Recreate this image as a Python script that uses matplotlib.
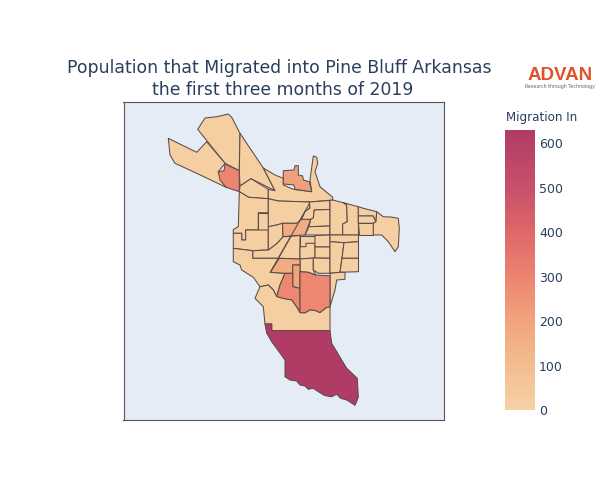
import matplotlib
matplotlib.use("Agg")
import matplotlib.pyplot as plt
from matplotlib.colors import LinearSegmentedColormap, Normalize
from matplotlib.cm import ScalarMappable
from matplotlib.patches import Polygon

plt.rcParams['font.family'] = ['DejaVu Sans']

TITLE_LINES = ["Population that Migrated into Pine Bluff Arkansas", "the first three months of 2019"]
CBAR_TITLE = "Migration In"
CBAR_TICKS = [0, 100, 200, 300, 400, 500, 600]
VMAX = 630

# Tract outlines in map units, with migration value per tract
north_wedge = [(197.7,129.3),(205,118),(216.7,116.7),(222,115.5),(228.3,114),(231.7,117.3),(240,133.3),(239.3,170.7),(225,163.3)]
north_east = [(240,133.3),(263.3,168),(275,190.7),(251,178.7),(240,186),(239.3,170.7)]
far_west = [(168.3,138.3),(196.7,152.3),(206.7,141.7),(225,163.3),(218.3,171.7),(221.7,180),(226,187.3),(196.7,173.3),(175,163.3),(170,155)]
red_nw = [(225,164),(239.3,170.7),(239.3,191.7),(226,187.3),(220,180),(218.3,171.7),(224,170.7)]
central_north = [(251,178.7),(268.3,189.3),(268.3,198.7),(248.7,197.3),(239.3,191.7),(240,186)]
north_river = [(263.3,168),(275,175),(283.3,178.3),(283.3,185),(293.3,189.3),(311.7,191.7),(310,180),(313.3,156),(316.7,157.3),(317.7,163.3),(315,171.7),(320,186.7),(332.7,197.3),(332.7,200),(310,202),(278.3,201),(268.3,198.7),(268.3,189.3),(275,190.7)]
orange_north = [(283.3,170.7),(294,170),(295,165.7),(298.3,165.7),(298.3,175),(302.7,176),(303.3,180),(309.3,181.7),(311.7,191.7),(295,189.3),(294,185),(283.3,184)]
west_top = [(239.3,191.7),(248.7,197.3),(268.3,198.7),(268.3,212.7),(258.3,212.7),(258.3,230),(245.7,230),(245.7,240),(241.7,240),(241.7,233.3),(233.3,233.3),(233.3,229.5),(238.3,226.7)]
box_west = [(258.3,212.7),(268.3,212.7),(268.3,230),(258.3,230)]
west_mid = [(233.3,233.3),(241.7,233.3),(241.7,240),(245.7,240),(245.7,230),(268.3,230),(268.3,250),(252.7,250.7),(233.3,248.3)]
strip = [(252.7,250.7),(268.3,250),(277,243.3),(283,236.7),(291,236.3),(278.4,258.3),(252.7,258.3)]
center_north = [(268.3,198.7),(278.3,201),(309.3,202),(310,208),(305,211.7),(298.3,223.3),(282.7,223.3),(276.7,225),(268.3,226.7)]
center_small = [(268.3,226.7),(276.7,225),(282.7,223.3),(283,236.7),(277,243.3),(268.3,250)]
orange_center = [(282.5,223.3),(296.7,223.3),(301.7,219.3),(310.7,219.3),(305,235),(293.3,235.7),(283,236.7)]
diag_right = [(309.3,202),(330,200.5),(330,209.5),(314.3,210),(313.3,218),(310.7,219.3),(301.7,219.3),(305,211.7),(310,208)]
col_a = [(314.3,210),(330,209.5),(330,226),(309,226.7),(310.7,219.3),(313.3,218)]
col_b = [(309,226.7),(330,226),(330,235),(305,235)]
east_a = [(330,200.5),(332.7,200),(343.3,202.7),(346.7,205),(347.3,221.7),(342.7,224),(342.7,235),(330,235)]
east_b = [(343.3,202.7),(358.3,206.7),(358.5,235),(342.7,235),(342.7,224),(347.3,221.7),(346.7,205)]
small_a = [(358.3,206.7),(363.3,208.3),(376.7,211.7),(376,221.7),(373,216),(358.3,216)]
small_b = [(358.3,216),(373,216),(376,221.7),(373.3,223.3),(358.3,223.3)]
small_c = [(358.3,223.3),(373.3,223.3),(373.3,235),(358.5,235)]
east_end = [(376.7,211.7),(383.3,216.7),(391,217),(398.3,218.3),(399.3,228.3),(398.3,246.7),(395,251.7),(388.3,241.7),(381.7,235),(373.3,235),(373.3,223.3),(376,221.7)]
mid_tri = [(291,236.3),(300,235.5),(300,259),(278.4,258.3)]
box_a = [(300,235.5),(315,235.5),(315,243.3),(306,243.3),(306,246.7),(300,246.7)]
box_b = [(300,246.7),(306,246.7),(306,243.3),(315,243.3),(315,258),(300,259)]
box_c = [(315,235.5),(330,235),(330,247),(315,247)]
box_d = [(315,247),(330,247),(330,258.3),(315,258)]
box_f = [(300,259),(313.3,258),(313.3,270),(316,275),(308.3,272.3),(300,271.7)]
box_g = [(313.3,258),(330,258.3),(330,273.3),(318.3,273.3),(313.3,270)]
right_1 = [(330,235),(358.5,235),(358.5,241.7),(344,242.7),(330,241.7)]
right_2 = [(330,241.7),(344,242.7),(342,258.3),(340,272.3),(330,273.3)]
right_3 = [(344,242.7),(358.5,241.7),(358.5,258.3),(342,258.3)]
right_4 = [(342,258.3),(358.5,258.3),(358.5,271.7),(340,272.3)]
right_5 = [(330,273.3),(340,272.3),(345,272.3),(345,279.3),(336.7,280),(335,290),(330,306.7)]
south_west = [(233.3,248.3),(252.7,250.7),(252.7,258.3),(278.4,258.3),(270.3,272.3),(285,273.3),(280,285),(276.7,296.7),(273.3,290),(268.3,285),(260,286.7),(253.3,277.3),(241.7,270),(240,265),(233.3,261.7)]
orange_south = [(270.3,272.3),(279.3,258.3),(300,259),(300,265),(292.7,265),(292.7,273.3),(285,273.3)]
orange_narrow = [(292.7,265),(300,265),(300,288.3),(292.7,286.7)]
red_left = [(285,273.3),(292.7,273.3),(292.7,286.7),(300,288.3),(300,312.7),(296,306),(291.7,300),(284,298.7),(276.7,296.7),(280,285)]
red_right = [(300,271.7),(308.3,272.3),(315,275),(330,275.7),(330,306.7),(326,308),(320,312.7),(315,310.5),(310,310),(305,313),(300,312.7)]
pale_south = [(260,286.7),(268.3,285),(273.3,290),(276.7,296.7),(284,298.7),(291.7,300),(296,306),(300,312.7),(305,313),(310,310),(315,310.5),(320,312.7),(326,308),(330,306.7),(330,330.7),(271.7,330.7),(271.7,324),(265,324),(263.3,306.7),(255,298.3)]
deep_south = [(265,324),(271.7,324),(271.7,330.7),(330,330.7),(331.7,343.3),(346.7,368.3),(357.3,378.3),(358.3,396.7),(357.3,400),(355,405.3),(346.7,400),(340.7,398.3),(336.7,394.3),(331.7,396.7),(325,395.7),(318.3,391.7),(313.3,388.3),(308.3,389.3),(305,386),(300,385),(296.7,381),(290,380),(285,376.7),(285,360),(271.7,341.7),(266.7,333)]

tracts = [
    (north_wedge, 15), (north_east, 15), (far_west, 15), (red_nw, 300),
    (central_north, 15), (north_river, 15), (orange_north, 210), (west_top, 15),
    (box_west, 15), (west_mid, 15), (strip, 15), (center_north, 15),
    (center_small, 15), (orange_center, 170), (diag_right, 15), (col_a, 15),
    (col_b, 15), (east_a, 15), (east_b, 15), (small_a, 15), (small_b, 15),
    (small_c, 15), (east_end, 15), (mid_tri, 15), (box_a, 15), (box_b, 15),
    (box_c, 15), (box_d, 15), (box_f, 15), (box_g, 15), (right_1, 15),
    (right_2, 15), (right_3, 15), (right_4, 15), (right_5, 15), (south_west, 15),
    (orange_south, 170), (orange_narrow, 200), (red_left, 290), (red_right, 290),
    (pale_south, 15), (deep_south, 630),
]
diagonal_line = [(309.5, 203.5), (270.3, 272.3)]

cmap = LinearSegmentedColormap.from_list("sunset", [
    (0.00, "#f5d1a5"), (0.16, "#f3bd90"), (0.32, "#f1a37d"), (0.48, "#ec8370"),
    (0.64, "#de6769"), (0.80, "#c7506a"), (1.00, "#b03c66")])
norm = Normalize(0, VMAX)

fig = plt.figure(figsize=(6, 5), dpi=100)
W, H = 600, 500
ax = fig.add_axes([123.5/W, 1-419.5/H, 320/W, 318/H])
ax.set_facecolor("#e5ecf6")
ax.set_xlim(123.5, 443.5)
ax.set_ylim(419.5, 101.5)
ax.set_xticks([]); ax.set_yticks([])
for s in ax.spines.values():
    s.set_color("#555555"); s.set_linewidth(0.8)

EDGE = "#5a4c48"
for pts, val in tracts:
    ax.add_patch(Polygon(pts, closed=True, facecolor=cmap(norm(val)),
                         edgecolor=EDGE, linewidth=0.75, joinstyle="round"))
ax.plot(*zip(*diagonal_line), color=EDGE, lw=0.75)

fig.text(279.5/W, 1-68/H, TITLE_LINES[0], ha="center", va="center", fontsize=12.4, color="#2a3f5f")
fig.text(283/W, 1-90/H, TITLE_LINES[1], ha="center", va="center", fontsize=12.4, color="#2a3f5f")

# Logo wordmark
fig.text(560/W, 1-75/H, "ADVAN", ha="center", va="center", fontsize=13.5, fontweight="bold",
         color="#e0522a", family="Liberation Sans")
fig.text(559.5/W, 1-86.5/H, "Research through Technology", ha="center", va="center",
         fontsize=3.4, color="#666666")

# Colour bar
cax = fig.add_axes([505/W, 1-410/H, 30/W, 280/H])
cb = fig.colorbar(ScalarMappable(norm=norm, cmap=cmap), cax=cax, ticks=CBAR_TICKS)
cb.outline.set_visible(False)
cb.ax.tick_params(length=0, labelsize=9, labelcolor="#2a3f5f", pad=3)
fig.text(505.5/W, 1-117.5/H, CBAR_TITLE, ha="left", va="center", fontsize=8.6, color="#2a3f5f")

fig.savefig("out.png", dpi=100, facecolor="white")
